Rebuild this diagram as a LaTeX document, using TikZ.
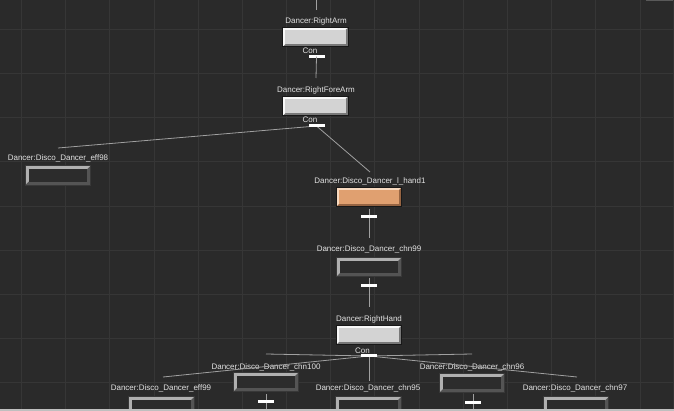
\documentclass[tikz,border=0pt]{standalone}
\usepackage{fontspec}
\setmainfont{Liberation Sans}
\definecolor{bgc}{RGB}{42,42,42}
\definecolor{gridc}{RGB}{54,54,54}
\definecolor{txtc}{RGB}{226,226,226}
\definecolor{linec}{RGB}{160,160,160}
\definecolor{lface}{RGB}{211,211,211}
\definecolor{llight}{RGB}{248,248,248}
\definecolor{lshade}{RGB}{120,120,120}
\definecolor{lout}{RGB}{24,24,24}
\definecolor{dface}{RGB}{44,44,44}
\definecolor{dlight}{RGB}{176,176,176}
\definecolor{dshade}{RGB}{84,84,84}
\definecolor{dout}{RGB}{56,56,56}
\definecolor{oface}{RGB}{224,160,112}
\definecolor{olight}{RGB}{248,218,192}
\definecolor{oshade}{RGB}{150,100,66}
\newcommand\bevbox[6]{%
  \fill[#3] (#1.north west) rectangle (#1.south east);
  \fill[#4] (#1.south west) -- (#1.south east) -- (#1.north east)
     -- ([shift={(-#6pt,-#6pt)}]#1.north east) -- ([shift={(-#6pt,#6pt)}]#1.south east)
     -- ([shift={(#6pt,#6pt)}]#1.south west) -- cycle;
  \fill[#2] ([shift={(#6pt,-#6pt)}]#1.north west) rectangle ([shift={(-#6pt,#6pt)}]#1.south east);
  \draw[#5, line width=1pt] (#1.north west) rectangle (#1.south east);
}
\newcommand\lightbev[1]{\bevbox{#1}{lface}{llight}{lshade}{lout}{2.5}}
\newcommand\darkbev[1]{\bevbox{#1}{dface}{dlight}{dshade}{dout}{3.5}}
\newcommand\orangebev[1]{\bevbox{#1}{oface}{olight}{oshade}{lout}{2.5}}
\begin{document}
\begin{tikzpicture}[x=1pt,y=-1pt,
  boxshape/.style={rectangle, minimum width=65pt, minimum height=19pt, inner sep=0pt},
  lbl/.style={text=txtc, font=\fontsize{8}{9}\selectfont, inner sep=0pt, anchor=base},
  bar/.style={fill=white, minimum width=16pt, minimum height=3pt, inner sep=0pt},
  link/.style={draw=linec, line width=0.8pt}
]
\useasboundingbox (0,0) rectangle (674,411);
\clip (0,0) rectangle (674,411);
\fill[bgc] (0,0) rectangle (674,411);
\foreach \k in {0,...,14} \draw[gridc, line width=1pt] ({21.5+44.18*\k},0) -- ({21.5+44.18*\k},411);
\foreach \k in {0,...,8} \draw[gridc, line width=1pt] (0,{29.3+44.18*\k}) -- (674,{29.3+44.18*\k});

% coordinates for connector ends
\coordinate (topc) at (316,0);
\coordinate (rarmin) at (316,10);
\coordinate (rfain) at (316,78);
\coordinate (e98in) at (58,148);
\coordinate (lhin) at (370,172);
\coordinate (lhout) at (369,209);
\coordinate (c99in) at (369,238);
\coordinate (c99out) at (369,278);
\coordinate (rhin) at (369,307);
\coordinate (c100in) at (266,354);
\coordinate (e99in) at (163,377);
\coordinate (c95in) at (369,381);
\coordinate (c96in) at (472,354);
\coordinate (c97in) at (577,377);
\coordinate (c100out) at (266,394);
\coordinate (c100end) at (266,411);
\coordinate (c96out) at (473,394);
\coordinate (c96end) at (473,411);

% connectors
\draw[link] (topc) -- (rarmin);
\draw[link] (lhout) -- (c99in);
\draw[link] (c99out) -- (rhin);
\draw[link] (c100out) -- (c100end);
\draw[link] (c96out) -- (c96end);

% boxes
\node[boxshape] (rarm) at (315.5,37) {};
\node[boxshape] (rfa) at (315.5,106) {};
\node[boxshape] (e98) at (58,175.5) {};
\node[boxshape] (lh) at (369,197) {};
\node[boxshape] (c99) at (369,267) {};
\node[boxshape] (rh) at (369,335) {};
\node[boxshape] (c100) at (266,382) {};
\node[boxshape] (c96) at (472,383) {};
\node[boxshape] (e99) at (161.5,406.5) {};
\node[boxshape] (c95) at (368.5,406.5) {};
\node[boxshape] (c97) at (576,406.5) {};
\lightbev{rarm}
\lightbev{rfa}
\lightbev{rh}
\orangebev{lh}
\darkbev{e98}
\darkbev{c99}
\darkbev{c100}
\darkbev{c96}
\darkbev{e99}
\darkbev{c95}
\darkbev{c97}

% labels
\node[lbl] (rarmL) at (316,24) {Dancer:RightArm};
\node[lbl] (rfaL) at (316,93) {Dancer:RightForeArm};
\node[lbl] (e98L) at (58,161) {Dancer:Disco\_Dancer\_eff98};
\node[lbl] (lhL) at (370,184) {Dancer:Disco\_Dancer\_l\_hand1};
\node[lbl] (c99L) at (369,252) {Dancer:Disco\_Dancer\_chn99};
\node[lbl] (rhL) at (369,321) {Dancer:RightHand};
\node[lbl] (c100L) at (266,369.5) {Dancer:Disco\_Dancer\_chn100};
\node[lbl] (c96L) at (472,369.5) {Dancer:Disco\_Dancer\_chn96};
\node[lbl] (e99L) at (161,390) {Dancer:Disco\_Dancer\_eff99};
\node[lbl] (c95L) at (368,390) {Dancer:Disco\_Dancer\_chn95};
\node[lbl] (c97L) at (575,390) {Dancer:Disco\_Dancer\_chn97};

% Con labels and bars
\node[lbl] (con1) at (310,54) {Con};
\node[lbl] (con2) at (310,123) {Con};
\node[lbl] (con3) at (362.5,353) {Con};
\node[bar] (b1) at (316.5,56.7) {};
\node[bar] (b2) at (316.5,126) {};
\node[bar] (b3) at (369,217) {};
\node[bar] (b4) at (369,286) {};
\node[bar] (b5) at (369,355) {};
\node[bar] (b6) at (265.5,401.7) {};
\node[bar] (b7) at (473,402) {};

\draw[link] (b1.center) -- (rfain);
\draw[link] (b2.center) -- (e98in);
\draw[link] (b2.center) -- (lhin);
\draw[link] ([yshift=-1pt]b5.center) -- (c100in);
\draw[link] ([yshift=-1pt]b5.center) -- (e99in);
\draw[link] (b5.center) -- (c95in);
\draw[link] ([yshift=-1pt]b5.center) -- (c96in);
\draw[link] ([yshift=-1pt]b5.center) -- (c97in);
\node[bar] at (b2) {};
\node[bar] at (b5) {};

% window edges
\fill[black!25!white] (0,409) rectangle (674,411);
\fill[black!80!white] (672.5,0) rectangle (674,409);
\fill[black!65!white] (646,0) rectangle (672.5,1.2);
\end{tikzpicture}
\end{document}
